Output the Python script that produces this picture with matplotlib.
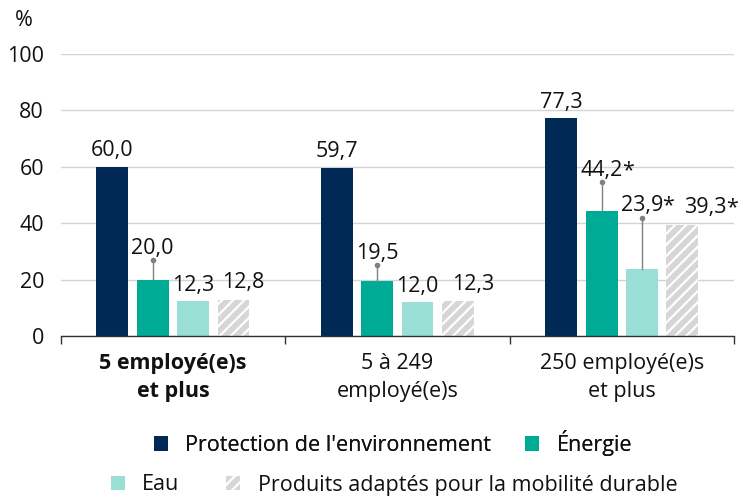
import numpy as np
import matplotlib.pyplot as plt
from matplotlib.patches import Patch

plt.rcParams['font.family'] = ['Open Sans', 'DejaVu Sans']
plt.rcParams['hatch.linewidth'] = 1.6

# données
groupes = ['5 employé(e)s\net plus', '5 à 249\nemployé(e)s', '250 employé(e)s\net plus']
series = ["Protection de l'environnement", 'Énergie', 'Eau',
          'Produits adaptés pour la mobilité durable']
protection = [60.0, 59.7, 77.3]
energie = [20.0, 19.5, 44.2]
eau = [12.3, 12.0, 23.9]
mobilite = [12.8, 12.3, 39.3]
# borne haute de l'intervalle (barres d'erreur), None = pas affichée
err_haut = {
    'Énergie': [27.0, 25.2, 54.5],
    'Eau': [None, None, 42.0],
}
# valeurs peu fiables (astérisque)
etoile = {
    'Énergie': [False, False, True],
    'Eau': [False, False, True],
    'Produits adaptés pour la mobilité durable': [False, False, True],
}

couleurs = ['#002a55', '#00ab96', '#9adfd6', '#d6d6d6']
hachures = [None, None, None, '///']
valeurs = [protection, energie, eau, mobilite]
# décalage horizontal des étiquettes (points) pour éviter les chevauchements
decalage = {'Produits adaptés pour la mobilité durable': [7, 11, 16.5]}

fs = 15.5
fig = plt.figure(figsize=(7.43, 5), dpi=100)
ax = fig.add_axes([60.7 / 743, 164 / 500, (734 - 60.7) / 743, 282 / 500])

x = np.arange(len(groupes))
largeur = 0.142
pas = 0.18

for i, (nom, vals) in enumerate(zip(series, valeurs)):
    pos = x + (i - 1.5) * pas
    ax.bar(pos, vals, width=largeur, color=couleurs[i], hatch=hachures[i],
           edgecolor='white' if hachures[i] else couleurs[i], linewidth=0, zorder=3)
    hauts = err_haut.get(nom, [None] * 3)
    dxs = decalage.get(nom, [0] * 3)
    for j, v in enumerate(vals):
        top = v
        off = 8.5 if hachures[i] else 7.5
        if hauts[j] is not None:
            ax.plot([pos[j], pos[j]], [v, hauts[j]], color='#808080', lw=1, zorder=4)
            ax.plot(pos[j], hauts[j], 'o', color='#808080', ms=3, zorder=4)
            top = hauts[j]
            off = 4.5
        t = ax.annotate(f'{v:.1f}'.replace('.', ','), (pos[j], top),
                        xytext=(dxs[j], off), textcoords='offset points',
                        ha='center', va='baseline', fontsize=fs, color='#111111',
                        annotation_clip=False, zorder=5)
        if etoile.get(nom, [False] * 3)[j]:
            ax.annotate('*', xy=(1, 0), xycoords=t, xytext=(-0.5, 0),
                        textcoords='offset points', ha='left', va='bottom',
                        fontsize=fs, color='#111111')

ax.set_ylim(0, 100)
ax.set_xlim(-0.5, 2.5)
ax.set_yticks(range(0, 101, 20))
ax.set_xticks(x)
ax.set_xticklabels(groupes, fontsize=fs, color='#111111', linespacing=1.45)
ax.get_xticklabels()[0].set_fontweight('bold')
ax.set_xticks([-0.5, 0.5, 1.5, 2.5], minor=True)
ax.tick_params(axis='x', which='major', length=0, pad=12)
ax.tick_params(axis='x', which='minor', length=6, width=1, color='#333333', direction='out')
ax.tick_params(axis='y', length=0, pad=12, labelsize=fs, labelcolor='#111111')
ax.grid(axis='y', color='#d4d4d4', lw=1, zorder=0)
for s in ['top', 'right', 'left']:
    ax.spines[s].set_visible(False)
ax.spines['bottom'].set_color('#333333')
ax.spines['bottom'].set_linewidth(1)
ax.spines['bottom'].set_zorder(6)

fig.text(15 / 743, 1 - 21 / 500, '%', fontsize=fs, color='#111111', va='center', ha='left')

poignees = [Patch(facecolor=c, hatch=h, edgecolor='white' if h else c, linewidth=0)
            for c, h in zip(couleurs, hachures)]
leg1 = fig.legend(poignees[:2], series[:2], loc='center', bbox_to_anchor=(393 / 743, 1 - 443 / 500),
                  ncol=2, frameon=False, fontsize=fs, handlelength=0.65, handleheight=0.65,
                  handletextpad=0.8, columnspacing=1.6, borderpad=0, labelcolor='#111111')
leg2 = fig.legend(poignees[2:], series[2:], loc='center', bbox_to_anchor=(394 / 743, 1 - 485 / 500),
                  ncol=2, frameon=False, fontsize=fs, handlelength=0.65, handleheight=0.65,
                  handletextpad=0.8, columnspacing=2.2, borderpad=0, labelcolor='#111111')
fig.add_artist(leg1)

fig.savefig('out.png', dpi=100)
